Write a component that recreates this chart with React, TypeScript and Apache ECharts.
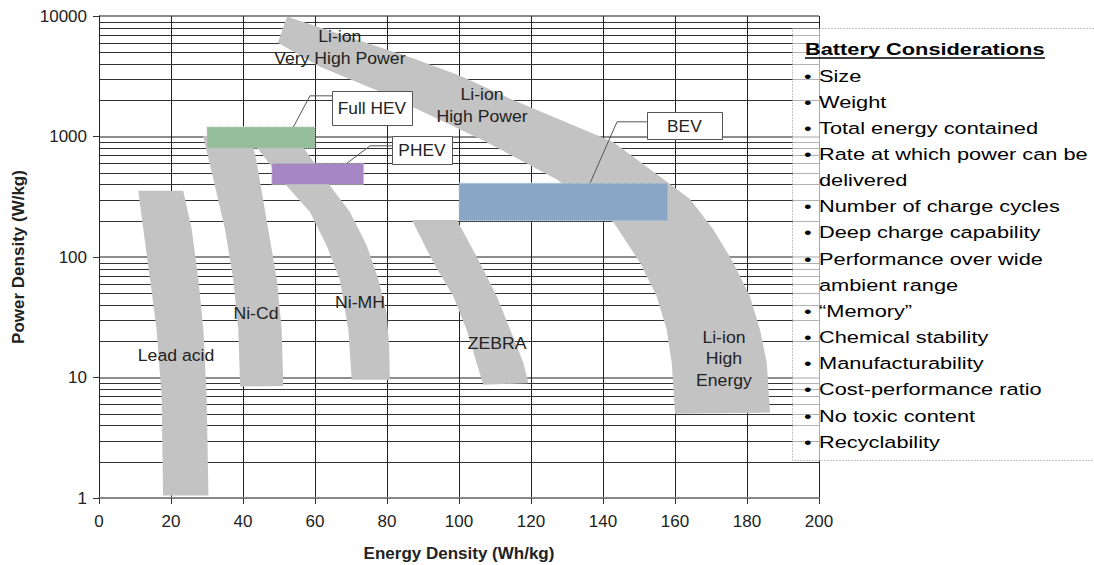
import React, { useEffect, useRef } from "react";
import * as echarts from "echarts";

type Pt = [number, number];

const FONT = "'Liberation Sans', Arial, Helvetica, sans-serif";

// Axis tick values
const energyTicks = [0, 20, 40, 60, 80, 100, 120, 140, 160, 180, 200];
const powerMinorLines = [
  2, 3, 4, 5, 6, 7, 8, 9,
  20, 30, 40, 50, 60, 70, 80, 90,
  200, 300, 400, 500, 600, 700, 800, 900,
  2000, 3000, 4000, 5000, 6000, 7000, 8000, 9000,
];

// Chemistry regions (energy Wh/kg, power W/kg)
const leadAcidBand: Pt[] = [
  [10.9, 355], [23.4, 355], [25.75, 170], [27.6, 65], [29.0, 25], [29.9, 6.95],
  [30.4, 1.05], [17.8, 1.05], [17.4, 6.95], [16.0, 25], [14.2, 65], [12.3, 170],
];
const niCdBand: Pt[] = [
  [28.9, 1019], [42.9, 816], [43.8, 615], [47.0, 170], [49.4, 65], [50.75, 25],
  [51.2, 8.5], [39.2, 8.41], [38.7, 25], [37.3, 65], [35, 170], [31.75, 444],
];
const niMhBand: Pt[] = [
  [43.8, 816], [56.75, 816], [64.2, 391], [69.7, 236], [74.4, 124], [77.6, 65],
  [79.9, 34.6], [80.6, 18.1], [80.8, 9.57], [70.2, 9.57], [69.25, 25],
  [66.9, 65], [63.25, 124], [58.6, 236], [52.1, 391],
];
const zebraBand: Pt[] = [
  [86.9, 203], [99.4, 203], [105.8, 89.8], [110.5, 47.3], [114.2, 25],
  [117.9, 13.2], [119.25, 8.98], [106.75, 8.69], [104.9, 13.2], [102.1, 25],
  [98.4, 47.3], [92.9, 89.8],
];
const liIonBand: Pt[] = [
  [52.2, 9900], [87.2, 4450], [100.3, 3200], [114.2, 2060], [142.8, 900],
  [158.6, 404], [164.2, 302], [170.6, 170], [176.2, 89.8], [180.8, 47.3],
  [183.6, 25], [185.5, 13.2], [186.4, 5.1], [160, 5.0], [159.1, 13.2],
  [157.7, 25], [154.9, 47.3], [150.3, 89.8], [142.9, 194], [127.2, 440],
  [105.8, 960], [78.1, 2350], [61.4, 3800], [49.7, 6000],
];
const bands: Pt[][] = [leadAcidBand, niCdBand, niMhBand, zebraBand, liIonBand];

const bandLabelTexts = [
  "Li-ion\nVery High Power",
  "Li-ion\nHigh Power",
  "Lead acid",
  "Ni-Cd",
  "Ni-MH",
  "ZEBRA",
  "Li-ion\nHigh\nEnergy",
];
const bandLabelPoints: Pt[] = [
  [66.9, 5480], [106.4, 1800], [21.4, 15.2], [43.6, 33.9], [72.5, 41.9],
  [110.6, 19], [173.6, 14.3],
];

// Vehicle requirement boxes
const vehicleNames = ["Full HEV", "PHEV", "BEV"];
const vehicleEnergy: Pt[] = [[30, 60], [48, 73.5], [100, 158]];
const vehiclePower: Pt[] = [[800, 1200], [400, 600], [200, 410]];
const calloutCenters: Pt[] = [[75.8, 1735], [89.7, 775], [162.6, 1240]];
const calloutLeaders: Pt[][] = [
  [[64.7, 2175], [58.6, 2175], [54, 1200]],
  [[81.4, 837], [75.3, 837], [68.9, 600]],
  [[152.2, 1324], [143.9, 1324], [136.4, 410]],
];

const considerationsTitle = "Battery Considerations";
const considerations: string[][] = [
  ["Size"],
  ["Weight"],
  ["Total energy contained"],
  ["Rate at which power can be", "delivered"],
  ["Number of charge cycles"],
  ["Deep charge capability"],
  ["Performance over wide", "ambient range"],
  ["\u201CMemory\u201D"],
  ["Chemical stability"],
  ["Manufacturability"],
  ["Cost-performance ratio"],
  ["No toxic content"],
  ["Recyclability"],
];

// styles (not data)
const vehicleColors = ["#94bd99", "#a786c6", "#89a6c6"];
const calloutSizes: Pt[] = [[80, 34], [60, 28], [75, 27]];

export default function App() {
  const ref = useRef<HTMLDivElement>(null);

  useEffect(() => {
    if (!ref.current) return;
    const chart = echarts.init(ref.current, undefined, { renderer: "svg" });

    const panelGraphics: any[] = [];
    panelGraphics.push({
      type: "rect",
      z: 20,
      shape: { x: 792.5, y: 28.5, width: 330, height: 432 },
      style: { fill: "rgba(255,255,255,0.62)", stroke: "#8a8a8a", lineWidth: 1, lineDash: [1, 2] },
    });
    panelGraphics.push({
      type: "text",
      z: 21,
      x: 805,
      y: 49,
      scaleX: 1.32,
      style: {
        text: considerationsTitle,
        fontFamily: FONT,
        fontSize: 16.5,
        fontWeight: "bold",
        fill: "#000",
        align: "left",
        verticalAlign: "middle",
      },
    });
    panelGraphics.push({
      type: "line",
      z: 21,
      shape: { x1: 805, y1: 58, x2: 1045, y2: 58 },
      style: { stroke: "#000", lineWidth: 1.5 },
    });
    let row = 0;
    considerations.forEach((item) => {
      item.forEach((line, j) => {
        const y = 76 + row * 26.15;
        if (j === 0) {
          panelGraphics.push({
            type: "text",
            z: 21,
            x: 804,
            y,
            scaleX: 1.32,
            style: { text: "\u2022", fontFamily: FONT, fontSize: 16.5, fill: "#000", align: "left", verticalAlign: "middle" },
          });
        }
        panelGraphics.push({
          type: "text",
          z: 21,
          x: 819,
          y,
          scaleX: 1.32,
          style: { text: line, fontFamily: FONT, fontSize: 16.5, fill: "#000", align: "left", verticalAlign: "middle" },
        });
        row++;
      });
    });

    const option: any = {
      animation: false,
      backgroundColor: "#fff",
      textStyle: { fontFamily: FONT },
      grid: { left: 99, right: 275, top: 16, bottom: 67, containLabel: false, outerBoundsMode: "none" },
      xAxis: {
        type: "value",
        min: 0,
        max: 200,
        interval: 20,
        name: "Energy Density (Wh/kg)",
        nameLocation: "middle",
        nameGap: 47,
        nameTextStyle: { fontFamily: FONT, fontSize: 17, fontWeight: "bold", color: "#222" },
        axisLine: { show: true, lineStyle: { color: "#888", width: 2 } },
        axisTick: { show: true, inside: false, length: 6, lineStyle: { color: "#333" } },
        axisLabel: { fontFamily: FONT, fontSize: 17, color: "#222", margin: 15 },
        splitLine: { show: true, lineStyle: { color: "#222", width: 1 } },
      },
      yAxis: {
        type: "log",
        logBase: 10,
        min: 1,
        max: 10000,
        name: "Power Density (W/kg)",
        nameLocation: "middle",
        nameGap: 72,
        nameRotate: 90,
        nameTextStyle: { fontFamily: FONT, fontSize: 17, fontWeight: "bold", color: "#222" },
        axisLine: { show: true, lineStyle: { color: "#222", width: 1 } },
        axisTick: { show: true, inside: false, length: 6, lineStyle: { color: "#333" } },
        axisLabel: {
          fontFamily: FONT,
          fontSize: 17,
          color: "#222",
          margin: 12,
          formatter: (v: number) => String(v),
        },
        splitLine: { show: true, lineStyle: { color: "#8d8d8d", width: 2 } },
        minorTick: { show: false },
        minorSplitLine: { show: false },
      },
      graphic: panelGraphics,
      series: [
        {
          type: "custom",
          name: "minor grid",
          coordinateSystem: "cartesian2d",
          silent: true,
          z: 1,
          data: powerMinorLines.map((v) => [energyTicks[0], v]),
          encode: { x: 0, y: 1 },
          renderItem: (params: any, api: any) => {
            const v = powerMinorLines[params.dataIndex];
            const a = api.coord([energyTicks[0], v]);
            const b = api.coord([energyTicks[energyTicks.length - 1], v]);
            const y = Math.round(a[1]) + 0.5;
            return {
              type: "line",
              shape: { x1: a[0], y1: y, x2: b[0], y2: y },
              style: { stroke: "#333", lineWidth: 1 },
            };
          },
        },
        {
          type: "custom",
          name: "bands",
          coordinateSystem: "cartesian2d",
          silent: true,
          z: 3,
          data: bands.map((b) => [b[0][0], b[0][1]]),
          encode: { x: 0, y: 1 },
          renderItem: (params: any, api: any) => {
            const pts = bands[params.dataIndex].map((p) => api.coord(p));
            return { type: "polygon", shape: { points: pts }, style: { fill: "#c3c3c3" } };
          },
        },
        {
          type: "custom",
          name: "vehicles",
          coordinateSystem: "cartesian2d",
          silent: true,
          z: 4,
          data: vehicleNames.map((_, i) => [vehicleEnergy[i][0], vehiclePower[i][0]]),
          encode: { x: 0, y: 1 },
          renderItem: (params: any, api: any) => {
            const i = params.dataIndex;
            const a = api.coord([vehicleEnergy[i][0], vehiclePower[i][1]]);
            const b = api.coord([vehicleEnergy[i][1], vehiclePower[i][0]]);
            return {
              type: "rect",
              shape: { x: a[0], y: a[1], width: b[0] - a[0], height: b[1] - a[1] },
              style: { fill: vehicleColors[i], stroke: "#c8c8c8", lineWidth: 1, lineDash: [1, 1] },
            };
          },
        },
        {
          type: "custom",
          name: "band labels",
          coordinateSystem: "cartesian2d",
          silent: true,
          z: 5,
          data: bandLabelPoints.map((p) => [p[0], p[1]]),
          encode: { x: 0, y: 1 },
          renderItem: (params: any, api: any) => {
            const p = api.coord(bandLabelPoints[params.dataIndex]);
            return {
              type: "text",
              x: p[0],
              y: p[1],
              scaleX: 1.07,
              style: {
                text: bandLabelTexts[params.dataIndex],
                fontFamily: FONT,
                fontSize: 16.5,
                lineHeight: 21.5,
                fill: "#222",
                align: "center",
                verticalAlign: "middle",
              },
            };
          },
        },
        {
          type: "custom",
          name: "callouts",
          coordinateSystem: "cartesian2d",
          silent: true,
          z: 6,
          data: calloutCenters.map((p) => [p[0], p[1]]),
          encode: { x: 0, y: 1 },
          renderItem: (params: any, api: any) => {
            const i = params.dataIndex;
            const c = api.coord(calloutCenters[i]);
            const [w, h] = calloutSizes[i];
            const leader = calloutLeaders[i].map((p) => api.coord(p));
            return {
              type: "group",
              children: [
                {
                  type: "polyline",
                  shape: { points: leader },
                  style: { stroke: "#555", lineWidth: 1, fill: "none" },
                },
                {
                  type: "rect",
                  shape: { x: Math.round(c[0] - w / 2) + 0.5, y: Math.round(c[1] - h / 2) + 0.5, width: w, height: h },
                  style: { fill: "#fff", stroke: "#555", lineWidth: 1 },
                },
                {
                  type: "text",
                  x: c[0],
                  y: c[1] + 1,
                  scaleX: 1.05,
                  style: {
                    text: vehicleNames[i],
                    fontFamily: FONT,
                    fontSize: 16.5,
                    fill: "#222",
                    align: "center",
                    verticalAlign: "middle",
                  },
                },
              ],
            };
          },
        },
      ],
    };

    chart.setOption(option);
    return () => {
      chart.dispose();
    };
  }, []);

  return (
    <div
      ref={ref}
      style={{ position: "fixed", left: 0, top: 0, width: 1094, height: 565, background: "#fff" }}
    />
  );
}
